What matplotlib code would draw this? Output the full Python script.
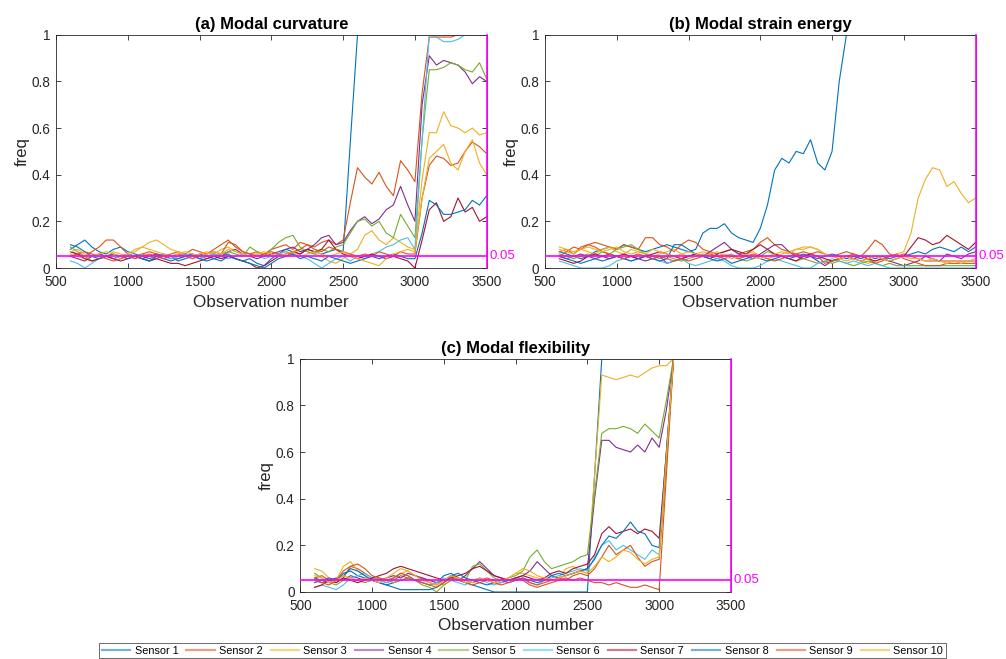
import numpy as np
import matplotlib
matplotlib.use("Agg")
import matplotlib.pyplot as plt
from matplotlib.lines import Line2D

plt.rcParams['font.family'] = ['Liberation Sans', 'DejaVu Sans']

# observation numbers (every 50 observations from 600 to 3500)
OBS = np.arange(600, 3501, 50)

SENSORS = ["Sensor 1", "Sensor 2", "Sensor 3", "Sensor 4", "Sensor 5",
           "Sensor 6", "Sensor 7", "Sensor 8", "Sensor 9", "Sensor 10"]
COLORS = ["#0072BD", "#D95319", "#EDB120", "#7E2F8E", "#77AC30",
          "#4DBEEE", "#A2142F", "#0072BD", "#D95319", "#EDB120"]
TITLES = ["(a) Modal curvature", "(b) Modal strain energy", "(c) Modal flexibility"]
THRESHOLD = 0.05
XTICKS = [500, 1000, 1500, 2000, 2500, 3000, 3500]
YTICKS = [0, 0.2, 0.4, 0.6, 0.8, 1]

# ---------------- (a) Modal curvature ----------------
a1 = [0.08, 0.10, 0.12, 0.09, 0.07, 0.06, 0.08, 0.09, 0.07, 0.06,
      0.05, 0.04, 0.05, 0.06, 0.05, 0.03, 0.04, 0.05, 0.06, 0.05,
      0.04, 0.05, 0.06, 0.04, 0.03, 0.04, 0.02, 0.01, 0.04, 0.06,
      0.08, 0.07, 0.06, 0.08, 0.07, 0.06, 0.07, 0.08, 0.07, 0.54,
      1, 1, 1, 1, 1, 1, 1, 1, 1, 1,
      1, 1, 1, 1, 1, 1, 1, 1, 1]
a2 = [0.07, 0.06, 0.05, 0.07, 0.09, 0.12, 0.12, 0.09, 0.06, 0.05,
      0.06, 0.07, 0.06, 0.05, 0.06, 0.07, 0.06, 0.08, 0.07, 0.06,
      0.08, 0.10, 0.12, 0.09, 0.07, 0.06, 0.07, 0.06, 0.08, 0.09,
      0.10, 0.08, 0.11, 0.10, 0.09, 0.11, 0.12, 0.10, 0.12, 0.28,
      0.43, 0.39, 0.36, 0.41, 0.35, 0.31, 0.46, 0.42, 0.37, 0.75,
      0.99, 0.99, 0.99, 0.99, 1.0, 1.0, 1.0, 1.0, 1.0]
a3 = [0.06, 0.05, 0.04, 0.05, 0.06, 0.05, 0.07, 0.06, 0.05, 0.07,
      0.09, 0.11, 0.12, 0.10, 0.08, 0.07, 0.06, 0.05, 0.06, 0.07,
      0.06, 0.08, 0.09, 0.07, 0.06, 0.05, 0.07, 0.06, 0.05, 0.06,
      0.07, 0.06, 0.08, 0.07, 0.06, 0.05, 0.03, 0.02, 0.04, 0.06,
      0.08, 0.14, 0.16, 0.12, 0.10, 0.13, 0.11, 0.09, 0.08, 0.38,
      0.58, 0.58, 0.67, 0.61, 0.60, 0.58, 0.60, 0.57, 0.58]
a4 = [0.05, 0.04, 0.03, 0.05, 0.06, 0.05, 0.04, 0.05, 0.06, 0.05,
      0.04, 0.05, 0.06, 0.05, 0.04, 0.05, 0.06, 0.05, 0.04, 0.05,
      0.06, 0.05, 0.07, 0.08, 0.06, 0.05, 0.04, 0.05, 0.06, 0.07,
      0.08, 0.09, 0.07, 0.08, 0.10, 0.13, 0.14, 0.10, 0.11, 0.16,
      0.20, 0.22, 0.19, 0.21, 0.25, 0.27, 0.35, 0.27, 0.20, 0.70,
      0.91, 0.87, 0.89, 0.88, 0.87, 0.84, 0.79, 0.82, 0.80]
a5 = [0.09, 0.07, 0.05, 0.03, 0.04, 0.05, 0.06, 0.05, 0.04, 0.05,
      0.06, 0.05, 0.04, 0.06, 0.05, 0.04, 0.05, 0.06, 0.05, 0.04,
      0.05, 0.06, 0.07, 0.06, 0.05, 0.09, 0.07, 0.05, 0.08, 0.11,
      0.13, 0.14, 0.09, 0.07, 0.06, 0.08, 0.07, 0.09, 0.10, 0.15,
      0.20, 0.21, 0.18, 0.20, 0.15, 0.13, 0.23, 0.18, 0.13, 0.55,
      0.85, 0.85, 0.86, 0.88, 0.87, 0.85, 0.84, 0.88, 0.81]
a6 = [0.03, 0.02, 0.00, 0.02, 0.04, 0.05, 0.04, 0.05, 0.06, 0.05,
      0.04, 0.03, 0.04, 0.05, 0.04, 0.05, 0.06, 0.05, 0.04, 0.05,
      0.06, 0.05, 0.04, 0.05, 0.06, 0.05, 0.06, 0.04, 0.05, 0.06,
      0.07, 0.06, 0.05, 0.04, 0.02, 0.00, 0.02, 0.04, 0.05, 0.03,
      0.05, 0.04, 0.06, 0.07, 0.09, 0.10, 0.12, 0.13, 0.08, 0.55,
      1.0, 0.99, 0.97, 0.97, 0.98, 1.0, 1.0, 1.0, 1.0]
a7 = [0.07, 0.06, 0.04, 0.03, 0.04, 0.05, 0.04, 0.03, 0.04, 0.05,
      0.04, 0.03, 0.04, 0.03, 0.02, 0.02, 0.01, 0.02, 0.03, 0.04,
      0.05, 0.04, 0.05, 0.04, 0.03, 0.02, 0.00, 0.01, 0.03, 0.05,
      0.06, 0.07, 0.06, 0.08, 0.07, 0.08, 0.12, 0.08, 0.06, 0.05,
      0.04, 0.05, 0.06, 0.05, 0.04, 0.05, 0.04, 0.03, 0.00, 0.12,
      0.25, 0.28, 0.20, 0.22, 0.30, 0.24, 0.26, 0.20, 0.22]
a8 = [0.10, 0.09, 0.07, 0.05, 0.04, 0.05, 0.06, 0.05, 0.04, 0.05,
      0.04, 0.03, 0.05, 0.04, 0.03, 0.04, 0.05, 0.06, 0.04, 0.03,
      0.04, 0.03, 0.05, 0.04, 0.03, 0.02, 0.01, 0.00, 0.02, 0.04,
      0.05, 0.06, 0.04, 0.05, 0.04, 0.03, 0.05, 0.04, 0.03, 0.02,
      0.03, 0.04, 0.05, 0.04, 0.05, 0.06, 0.05, 0.04, 0.04, 0.15,
      0.29, 0.27, 0.23, 0.23, 0.24, 0.25, 0.29, 0.27, 0.31]
a9 = [0.05, 0.06, 0.07, 0.06, 0.05, 0.04, 0.03, 0.04, 0.05, 0.04,
      0.05, 0.06, 0.05, 0.04, 0.05, 0.06, 0.05, 0.04, 0.05, 0.06,
      0.07, 0.06, 0.11, 0.10, 0.07, 0.06, 0.05, 0.06, 0.07, 0.06,
      0.05, 0.07, 0.08, 0.10, 0.08, 0.07, 0.09, 0.08, 0.07, 0.06,
      0.05, 0.06, 0.05, 0.07, 0.06, 0.05, 0.07, 0.06, 0.06, 0.30,
      0.44, 0.48, 0.47, 0.44, 0.45, 0.50, 0.54, 0.52, 0.49]
a10 = [0.07, 0.08, 0.06, 0.05, 0.06, 0.07, 0.06, 0.05, 0.06, 0.08,
       0.09, 0.08, 0.07, 0.06, 0.05, 0.06, 0.07, 0.06, 0.05, 0.06,
       0.07, 0.06, 0.08, 0.07, 0.06, 0.05, 0.06, 0.07, 0.06, 0.05,
       0.06, 0.07, 0.05, 0.06, 0.07, 0.06, 0.05, 0.06, 0.07, 0.05,
       0.04, 0.03, 0.02, 0.01, 0.04, 0.06, 0.07, 0.08, 0.07, 0.30,
       0.47, 0.50, 0.53, 0.45, 0.42, 0.50, 0.55, 0.45, 0.40]

# ---------------- (b) Modal strain energy ----------------
b1 = [0.07, 0.06, 0.05, 0.04, 0.05, 0.07, 0.08, 0.09, 0.08, 0.10,
      0.09, 0.08, 0.07, 0.08, 0.09, 0.10, 0.09, 0.08, 0.07, 0.08,
      0.15, 0.17, 0.17, 0.19, 0.15, 0.13, 0.12, 0.11, 0.17, 0.27,
      0.42, 0.47, 0.45, 0.50, 0.49, 0.55, 0.45, 0.42, 0.50, 0.80,
      1, 1, 1, 1, 1, 1, 1, 1, 1, 1,
      1, 1, 1, 1, 1, 1, 1, 1, 1]
b2 = [0.07, 0.08, 0.06, 0.09, 0.10, 0.11, 0.10, 0.09, 0.08, 0.10,
      0.09, 0.08, 0.13, 0.13, 0.10, 0.09, 0.07, 0.10, 0.12, 0.11,
      0.08, 0.07, 0.06, 0.07, 0.08, 0.06, 0.07, 0.08, 0.11, 0.13,
      0.10, 0.08, 0.07, 0.06, 0.05, 0.06, 0.07, 0.06, 0.05, 0.06,
      0.07, 0.06, 0.05, 0.08, 0.12, 0.10, 0.06, 0.05, 0.06, 0.05,
      0.04, 0.03, 0.03, 0.03, 0.03, 0.03, 0.03, 0.03, 0.03]
b3 = [0.08, 0.07, 0.06, 0.08, 0.07, 0.06, 0.08, 0.09, 0.07, 0.06,
      0.08, 0.07, 0.06, 0.05, 0.06, 0.07, 0.08, 0.06, 0.05, 0.06,
      0.07, 0.06, 0.05, 0.06, 0.05, 0.04, 0.06, 0.07, 0.05, 0.04,
      0.05, 0.06, 0.07, 0.08, 0.08, 0.09, 0.08, 0.06, 0.05, 0.04,
      0.03, 0.04, 0.03, 0.02, 0.03, 0.04, 0.05, 0.06, 0.07, 0.15,
      0.30, 0.38, 0.43, 0.42, 0.35, 0.37, 0.32, 0.28, 0.30]
b4 = [0.05, 0.04, 0.05, 0.06, 0.05, 0.04, 0.05, 0.06, 0.05, 0.04,
      0.05, 0.04, 0.03, 0.04, 0.05, 0.02, 0.03, 0.04, 0.05, 0.06,
      0.05, 0.07, 0.09, 0.11, 0.08, 0.06, 0.05, 0.04, 0.06, 0.08,
      0.10, 0.10, 0.07, 0.05, 0.04, 0.05, 0.03, 0.01, 0.03, 0.04,
      0.05, 0.04, 0.03, 0.04, 0.05, 0.04, 0.03, 0.02, 0.01, 0.02,
      0.03, 0.05, 0.04, 0.03, 0.06, 0.05, 0.04, 0.06, 0.07]
b5 = [0.06, 0.05, 0.04, 0.05, 0.06, 0.05, 0.07, 0.06, 0.08, 0.09,
      0.10, 0.08, 0.06, 0.05, 0.04, 0.05, 0.04, 0.03, 0.04, 0.05,
      0.06, 0.05, 0.04, 0.05, 0.06, 0.04, 0.03, 0.04, 0.05, 0.07,
      0.06, 0.05, 0.04, 0.03, 0.04, 0.03, 0.02, 0.03, 0.02, 0.03,
      0.02, 0.01, 0.02, 0.03, 0.02, 0.01, 0.02, 0.01, 0.01, 0.01,
      0.01, 0.01, 0.01, 0.01, 0.01, 0.01, 0.01, 0.01, 0.01]
b6 = [0.03, 0.02, 0.01, 0.00, 0.00, 0.00, 0.00, 0.01, 0.03, 0.04,
      0.03, 0.04, 0.05, 0.04, 0.03, 0.02, 0.03, 0.04, 0.02, 0.01,
      0.02, 0.03, 0.04, 0.03, 0.01, 0.00, 0.00, 0.00, 0.01, 0.03,
      0.04, 0.03, 0.02, 0.01, 0.00, 0.00, 0.02, 0.03, 0.04, 0.03,
      0.02, 0.03, 0.02, 0.01, 0.02, 0.01, 0.00, 0.00, 0.00, 0.00,
      0.00, 0.00, 0.00, 0.00, 0.00, 0.00, 0.00, 0.00, 0.00]
b7 = [0.04, 0.03, 0.02, 0.03, 0.05, 0.06, 0.05, 0.04, 0.05, 0.06,
      0.05, 0.04, 0.05, 0.06, 0.07, 0.06, 0.05, 0.04, 0.05, 0.06,
      0.05, 0.04, 0.06, 0.07, 0.08, 0.07, 0.06, 0.08, 0.10, 0.08,
      0.06, 0.05, 0.04, 0.03, 0.05, 0.06, 0.05, 0.04, 0.03, 0.04,
      0.05, 0.04, 0.05, 0.04, 0.03, 0.04, 0.03, 0.04, 0.05, 0.09,
      0.13, 0.12, 0.10, 0.11, 0.14, 0.12, 0.10, 0.08, 0.11]
b8 = [0.05, 0.04, 0.03, 0.02, 0.03, 0.04, 0.03, 0.04, 0.05, 0.04,
      0.03, 0.04, 0.05, 0.04, 0.03, 0.04, 0.10, 0.10, 0.08, 0.06,
      0.05, 0.04, 0.03, 0.04, 0.02, 0.03, 0.04, 0.05, 0.04, 0.03,
      0.04, 0.05, 0.04, 0.05, 0.06, 0.05, 0.04, 0.05, 0.06, 0.05,
      0.04, 0.05, 0.04, 0.05, 0.04, 0.05, 0.04, 0.05, 0.05, 0.06,
      0.07, 0.06, 0.08, 0.09, 0.08, 0.07, 0.09, 0.07, 0.09]
b9 = [0.05, 0.07, 0.09, 0.08, 0.10, 0.09, 0.07, 0.06, 0.05, 0.04,
      0.05, 0.06, 0.05, 0.04, 0.05, 0.04, 0.03, 0.04, 0.03, 0.04,
      0.05, 0.06, 0.05, 0.04, 0.05, 0.04, 0.05, 0.06, 0.05, 0.04,
      0.03, 0.04, 0.05, 0.06, 0.07, 0.06, 0.05, 0.02, 0.03, 0.04,
      0.05, 0.06, 0.05, 0.04, 0.02, 0.03, 0.05, 0.06, 0.04, 0.03,
      0.02, 0.01, 0.01, 0.01, 0.02, 0.02, 0.02, 0.02, 0.02]
b10 = [0.09, 0.08, 0.07, 0.08, 0.09, 0.08, 0.07, 0.08, 0.09, 0.07,
       0.06, 0.07, 0.06, 0.08, 0.07, 0.06, 0.05, 0.06, 0.07, 0.06,
       0.05, 0.06, 0.07, 0.05, 0.04, 0.05, 0.06, 0.05, 0.04, 0.05,
       0.06, 0.07, 0.06, 0.08, 0.09, 0.09, 0.08, 0.06, 0.05, 0.04,
       0.05, 0.04, 0.03, 0.04, 0.05, 0.04, 0.03, 0.04, 0.05, 0.04,
       0.04, 0.03, 0.04, 0.03, 0.02, 0.03, 0.02, 0.03, 0.04]

# ---------------- (c) Modal flexibility ----------------
c1 = [0.06, 0.05, 0.04, 0.05, 0.08, 0.09, 0.07, 0.06, 0.05, 0.04,
      0.03, 0.04, 0.05, 0.06, 0.05, 0.04, 0.03, 0.04, 0.07, 0.08,
      0.06, 0.04, 0.03, 0.02, 0.01, 0.00, 0.00, 0.00, 0.00, 0.00,
      0.00, 0.00, 0.00, 0.00, 0.00, 0.00, 0.00, 0.00, 0.00, 0.50,
      1, 1, 1, 1, 1, 1, 1, 1, 1, 1,
      1, 1, 1, 1, 1, 1, 1, 1, 1]
c2 = [0.06, 0.07, 0.05, 0.04, 0.06, 0.11, 0.10, 0.08, 0.06, 0.05,
      0.04, 0.05, 0.07, 0.06, 0.05, 0.06, 0.04, 0.03, 0.05, 0.07,
      0.06, 0.05, 0.04, 0.05, 0.06, 0.05, 0.04, 0.05, 0.06, 0.05,
      0.03, 0.02, 0.03, 0.04, 0.05, 0.06, 0.05, 0.06, 0.05, 0.04,
      0.04, 0.03, 0.04, 0.03, 0.02, 0.02, 0.03, 0.02, 0.01, 0.50,
      1, 1, 1, 1, 1, 1, 1, 1, 1]
c3 = [0.10, 0.09, 0.06, 0.05, 0.11, 0.13, 0.09, 0.07, 0.05, 0.04,
      0.05, 0.06, 0.08, 0.09, 0.07, 0.06, 0.05, 0.04, 0.03, 0.05,
      0.06, 0.05, 0.04, 0.06, 0.05, 0.04, 0.05, 0.06, 0.08, 0.08,
      0.07, 0.06, 0.05, 0.07, 0.06, 0.10, 0.11, 0.09, 0.08, 0.50,
      0.93, 0.92, 0.91, 0.92, 0.93, 0.92, 0.94, 0.96, 0.97, 0.97,
      1, 1, 1, 1, 1, 1, 1, 1, 1]
c4 = [0.05, 0.04, 0.05, 0.06, 0.05, 0.07, 0.06, 0.05, 0.06, 0.05,
      0.06, 0.07, 0.06, 0.08, 0.07, 0.06, 0.05, 0.04, 0.05, 0.06,
      0.05, 0.07, 0.10, 0.13, 0.10, 0.07, 0.06, 0.05, 0.06, 0.07,
      0.09, 0.13, 0.10, 0.07, 0.06, 0.07, 0.08, 0.09, 0.10, 0.40,
      0.65, 0.65, 0.62, 0.61, 0.60, 0.63, 0.60, 0.66, 0.62, 0.78,
      1, 1, 1, 1, 1, 1, 1, 1, 1]
c5 = [0.08, 0.06, 0.04, 0.03, 0.05, 0.06, 0.05, 0.04, 0.05, 0.06,
      0.05, 0.04, 0.05, 0.06, 0.05, 0.03, 0.02, 0.00, 0.03, 0.05,
      0.06, 0.05, 0.11, 0.12, 0.09, 0.06, 0.05, 0.06, 0.07, 0.09,
      0.15, 0.18, 0.13, 0.10, 0.11, 0.12, 0.13, 0.15, 0.16, 0.42,
      0.68, 0.70, 0.70, 0.71, 0.70, 0.68, 0.72, 0.69, 0.66, 0.82,
      1, 1, 1, 1, 1, 1, 1, 1, 1]
c6 = [0.02, 0.03, 0.02, 0.01, 0.03, 0.06, 0.07, 0.08, 0.06, 0.05,
      0.04, 0.06, 0.08, 0.07, 0.05, 0.04, 0.03, 0.04, 0.06, 0.05,
      0.04, 0.03, 0.05, 0.06, 0.04, 0.03, 0.04, 0.05, 0.06, 0.05,
      0.04, 0.03, 0.05, 0.06, 0.07, 0.08, 0.09, 0.10, 0.09, 0.15,
      0.20, 0.22, 0.18, 0.20, 0.18, 0.16, 0.14, 0.18, 0.16, 0.58,
      1, 1, 1, 1, 1, 1, 1, 1, 1]
c7 = [0.02, 0.03, 0.05, 0.04, 0.06, 0.05, 0.04, 0.05, 0.06, 0.07,
      0.08, 0.10, 0.11, 0.10, 0.09, 0.08, 0.07, 0.06, 0.05, 0.06,
      0.07, 0.08, 0.10, 0.11, 0.09, 0.07, 0.06, 0.05, 0.06, 0.07,
      0.06, 0.05, 0.06, 0.08, 0.09, 0.08, 0.10, 0.11, 0.12, 0.16,
      0.25, 0.28, 0.25, 0.26, 0.27, 0.25, 0.27, 0.26, 0.23, 0.60,
      1, 1, 1, 1, 1, 1, 1, 1, 1]
c8 = [0.04, 0.05, 0.06, 0.05, 0.07, 0.10, 0.09, 0.07, 0.05, 0.04,
      0.03, 0.02, 0.01, 0.01, 0.01, 0.01, 0.01, 0.02, 0.04, 0.07,
      0.08, 0.06, 0.05, 0.04, 0.03, 0.04, 0.05, 0.04, 0.05, 0.06,
      0.05, 0.04, 0.05, 0.07, 0.08, 0.07, 0.08, 0.09, 0.10, 0.14,
      0.20, 0.24, 0.23, 0.26, 0.30, 0.26, 0.25, 0.20, 0.19, 0.60,
      1, 1, 1, 1, 1, 1, 1, 1, 1]
c9 = [0.05, 0.04, 0.03, 0.05, 0.09, 0.11, 0.12, 0.10, 0.07, 0.06,
      0.05, 0.06, 0.08, 0.07, 0.05, 0.04, 0.03, 0.02, 0.04, 0.06,
      0.05, 0.04, 0.03, 0.04, 0.05, 0.04, 0.03, 0.04, 0.05, 0.06,
      0.04, 0.03, 0.04, 0.05, 0.06, 0.05, 0.07, 0.08, 0.07, 0.10,
      0.15, 0.20, 0.16, 0.18, 0.20, 0.15, 0.11, 0.13, 0.14, 0.55,
      1, 1, 1, 1, 1, 1, 1, 1, 1]
c10 = [0.07, 0.06, 0.04, 0.05, 0.07, 0.06, 0.05, 0.06, 0.05, 0.04,
       0.06, 0.08, 0.10, 0.09, 0.07, 0.05, 0.04, 0.03, 0.05, 0.07,
       0.06, 0.04, 0.05, 0.06, 0.05, 0.04, 0.05, 0.06, 0.08, 0.10,
       0.09, 0.07, 0.06, 0.05, 0.06, 0.07, 0.08, 0.09, 0.08, 0.11,
       0.15, 0.13, 0.15, 0.18, 0.17, 0.14, 0.12, 0.14, 0.15, 0.58,
       1, 1, 1, 1, 1, 1, 1, 1, 1]

PANELS = [
    [a1, a2, a3, a4, a5, a6, a7, a8, a9, a10],
    [b1, b2, b3, b4, b5, b6, b7, b8, b9, b10],
    [c1, c2, c3, c4, c5, c6, c7, c8, c9, c10],
]

AX_POS = [
    [0.0557, 0.5933, 0.4281, 0.3540],
    [0.5417, 0.5933, 0.4281, 0.3540],
    [0.2985, 0.1017, 0.4281, 0.3540],
]

DARK = "#262626"
MAG = "#FF00FF"

fig = plt.figure(figsize=(10.06, 6.59), dpi=100)

for pi, (series, title, pos) in enumerate(zip(PANELS, TITLES, AX_POS)):
    ax = fig.add_axes(pos)
    for vals, col in zip(series, COLORS):
        ax.plot(OBS, vals, color=col, lw=0.8)
    ax.axhline(THRESHOLD, color=MAG, lw=1.2, zorder=5)
    ax.plot([3500, 3500], [0, 1], color=MAG, lw=1.2, zorder=6, clip_on=False)
    ax.text(1.007, THRESHOLD, "0.05", transform=ax.get_yaxis_transform(),
            color=MAG, fontsize=9.5, va='center', ha='left')
    ax.set_xlim(500, 3500)
    ax.set_ylim(0, 1)
    ax.set_xticks(XTICKS)
    ax.set_yticks(YTICKS)
    ax.set_yticklabels(["0", "0.2", "0.4", "0.6", "0.8", "1"])
    ax.tick_params(direction='in', top=True, right=True, length=3.5,
                   width=0.6, colors=DARK, labelsize=9.8)
    ax.tick_params(axis='x', pad=5)
    ax.tick_params(axis='y', pad=4)
    for s in ax.spines.values():
        s.set_color(DARK)
        s.set_linewidth(0.6)
    ax.set_title(title, fontsize=12, fontweight='bold', pad=4)
    ax.set_xlabel("Observation number", fontsize=12.3, color=DARK, labelpad=4)
    ax.set_ylabel("freq", fontsize=12, color=DARK, labelpad=1.5)

handles = [Line2D([0], [0], color=c, lw=1.6, alpha=0.55) for c in COLORS]
leg = fig.legend(handles, SENSORS, loc='lower center', ncol=10,
                 bbox_to_anchor=(0.5195, 0.0), fontsize=7.8, frameon=True,
                 fancybox=False, edgecolor=DARK, handlelength=2.6,
                 handletextpad=0.4, columnspacing=0.75, borderpad=0.25,
                 borderaxespad=0.05)
leg.get_frame().set_linewidth(0.6)

fig.savefig("out.png", dpi=100)
